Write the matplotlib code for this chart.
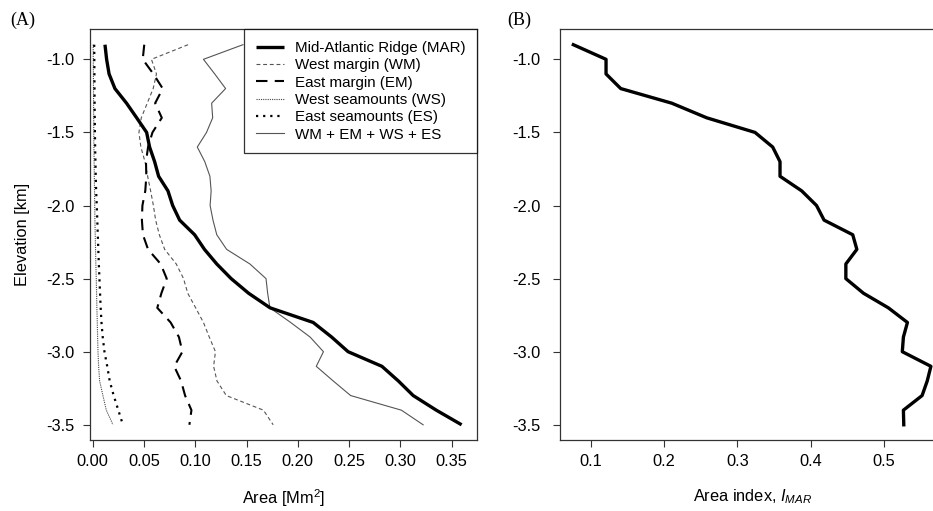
import matplotlib
matplotlib.use("Agg")
import matplotlib.pyplot as plt

plt.rcParams['font.family'] = ['Liberation Sans', 'DejaVu Sans']
plt.rcParams['mathtext.fontset'] = 'custom'
plt.rcParams['mathtext.rm'] = 'Liberation Sans'
plt.rcParams['mathtext.it'] = 'Liberation Sans:italic'

elevation = [-0.9, -1.0, -1.1, -1.2, -1.3, -1.4, -1.5, -1.6, -1.7, -1.8, -1.9, -2.0, -2.1,
             -2.2, -2.3, -2.4, -2.5, -2.6, -2.7, -2.8, -2.9, -3.0, -3.1, -3.2, -3.3, -3.4, -3.5]

mar = [0.012, 0.0136, 0.016, 0.0217, 0.033, 0.0429, 0.0526, 0.0555, 0.0604, 0.0643, 0.0734,
       0.078, 0.0848, 0.0994, 0.109, 0.121, 0.135, 0.152, 0.173, 0.215, 0.233, 0.249, 0.282,
       0.298, 0.3125, 0.335, 0.3597]
west_margin = [0.093, 0.0573, 0.0622, 0.059, 0.0532, 0.0474, 0.0451, 0.047, 0.051, 0.0536,
               0.0565, 0.0592, 0.0614, 0.065, 0.0702, 0.0815, 0.0886, 0.0927, 0.1004, 0.108,
               0.1137, 0.1197, 0.1179, 0.1212, 0.1303, 0.1665, 0.176]
east_margin = [0.0503, 0.0488, 0.0592, 0.0683, 0.0609, 0.0674, 0.0583, 0.054, 0.052, 0.0523,
               0.0513, 0.0485, 0.048, 0.049, 0.054, 0.0663, 0.0722, 0.067, 0.063, 0.076,
               0.0841, 0.0875, 0.0795, 0.0862, 0.0901, 0.0963, 0.0943]
west_seamounts = [0.0005, 0.0006, 0.0007, 0.0008, 0.0009, 0.001, 0.0011, 0.0012, 0.0014,
                  0.0016, 0.0018, 0.002, 0.0022, 0.0025, 0.0028, 0.0031, 0.0035, 0.0038,
                  0.0041, 0.0045, 0.0048, 0.0052, 0.0058, 0.0068, 0.010, 0.0133, 0.0198]
east_seamounts = [0.0015, 0.0016, 0.0017, 0.0018, 0.0019, 0.002, 0.0022, 0.0024, 0.0027,
                  0.003, 0.0034, 0.004, 0.0045, 0.005, 0.0055, 0.006, 0.0066, 0.0072, 0.0078,
                  0.0086, 0.0098, 0.0115, 0.0142, 0.0166, 0.0205, 0.025, 0.0295]
total = [0.1465, 0.108, 0.119, 0.1296, 0.116, 0.117, 0.111, 0.102, 0.1093, 0.1143, 0.1155,
         0.1145, 0.1173, 0.121, 0.1306, 0.1533, 0.169, 0.1706, 0.1728, 0.193, 0.212, 0.225,
         0.218, 0.2345, 0.2515, 0.301, 0.3222]
area_index = [0.0763, 0.1209, 0.1209, 0.1409, 0.2105, 0.2582, 0.3241, 0.3482, 0.3582, 0.3582,
              0.3878, 0.408, 0.4183, 0.4574, 0.463, 0.448, 0.448, 0.472, 0.506, 0.532, 0.5265,
              0.525, 0.564, 0.559, 0.552, 0.5265, 0.527]

y_ticks = [-1.0, -1.5, -2.0, -2.5, -3.0, -3.5]
xa_ticks = [0.00, 0.05, 0.10, 0.15, 0.20, 0.25, 0.30, 0.35]
xb_ticks = [0.1, 0.2, 0.3, 0.4, 0.5]

W, H = 933, 511
fig = plt.figure(figsize=(W / 100, H / 100), dpi=100)

bottom = 1 - 440 / H
height = (440 - 29.5) / H
axA = fig.add_axes([90 / W, bottom, (477 - 90) / W, height])
axB = fig.add_axes([560 / W, bottom, (946 - 560) / W, height])

axA.plot(west_margin, elevation, color='#555555', lw=0.8, dashes=(3.5, 2.5), label='West margin (WM)')
axA.plot(east_margin, elevation, color='black', lw=1.5, dashes=(5.5, 3.5), label='East margin (EM)')
axA.plot(west_seamounts, elevation, color='#444444', lw=0.8, dashes=(1, 1), label='West seamounts (WS)')
axA.plot(east_seamounts, elevation, color='black', lw=1.6, dashes=(1, 2.2), label='East seamounts (ES)')
axA.plot(total, elevation, color='#555555', lw=0.8, label='WM + EM + WS + ES')
axA.plot(mar, elevation, color='black', lw=2.4, solid_capstyle='butt', label='Mid-Atlantic Ridge (MAR)')

handles, labels = axA.get_legend_handles_labels()
order = [5, 0, 1, 2, 3, 4]
leg = axA.legend([handles[i] for i in order], [labels[i] for i in order], loc='upper right',
                 frameon=True, fancybox=False, borderaxespad=0, fontsize=10.9,
                 handlelength=1.9, handletextpad=0.7, labelspacing=0.22,
                 borderpad=0.75, edgecolor='black')
leg.get_frame().set_linewidth(0.9)

axB.plot(area_index, elevation, color='black', lw=2.4)

for ax, pad in ((axA, 6), (axB, 9)):
    ax.set_ylim(-3.604, -0.796)
    ax.set_yticks(y_ticks)
    ax.set_yticklabels([f'{v:.1f}' for v in y_ticks])
    ax.tick_params(direction='out', length=5, width=0.8, labelsize=11.8, pad=5, colors='#333333',
                   labelcolor='black')
    ax.tick_params(axis='y', pad=pad)
    for s in ax.spines.values():
        s.set_linewidth(0.9)
        s.set_color('#333333')

axA.set_xlim(-0.0026, 0.3747)
axA.set_xticks(xa_ticks)
axA.set_xticklabels([f'{v:.2f}' for v in xa_ticks])
axA.set_xlabel('Area [Mm$^2$]', fontsize=11.8, labelpad=13)
axA.set_ylabel('Elevation [km]', fontsize=11.8, labelpad=12)

axB.set_xlim(0.0581, 0.5846)
axB.set_xticks(xb_ticks)
axB.set_xticklabels([f'{v:.1f}' for v in xb_ticks])
axB.set_xlabel('Area index, $I_{MAR}$', fontsize=11.8, labelpad=13)

fig.text(10 / W, 1 - 20 / H, '(A)', family='Liberation Serif', fontsize=13, va='center', ha='left')
fig.text(507 / W, 1 - 20 / H, '(B)', family='Liberation Serif', fontsize=13, va='center', ha='left')

fig.savefig('out.png', dpi=100)
